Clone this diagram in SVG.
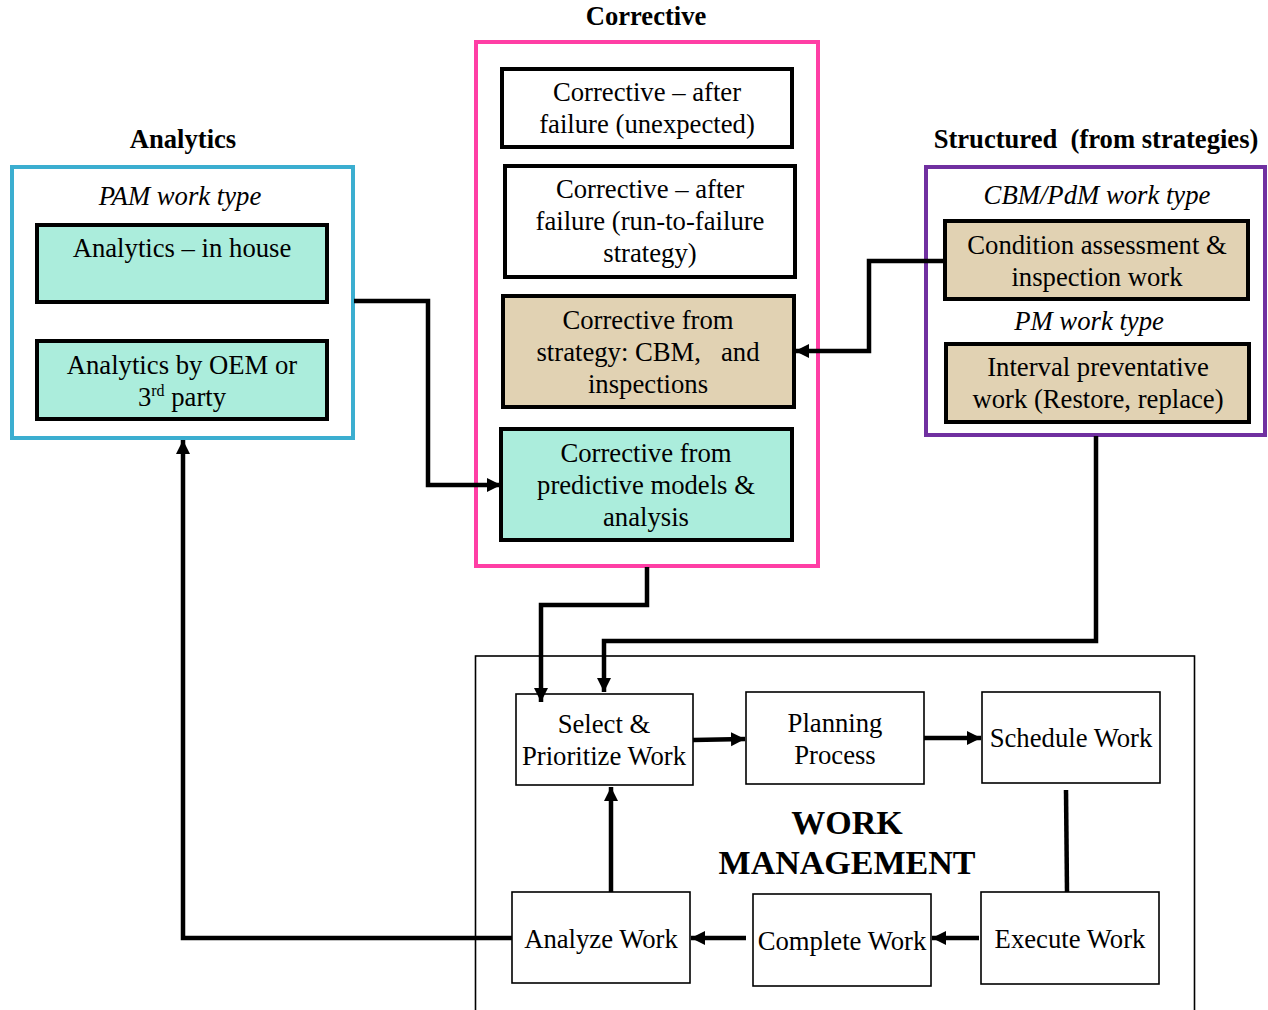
<svg xmlns="http://www.w3.org/2000/svg" width="1268" height="1010" viewBox="0 0 1268 1010">
<defs>
<style>
text{font-family:"Liberation Serif","Times New Roman",serif;fill:#000;text-anchor:middle}
.t{font-size:26.7px}
.h{font-size:26.6px;font-weight:bold}
.i{font-size:26.7px;font-style:italic}
.big{font-size:34px;font-weight:bold}
.teal{fill:#ABEDDC;stroke:#000;stroke-width:4}
.tan{fill:#E1D2B3;stroke:#000;stroke-width:4}
.wb{fill:#fff;stroke:#000;stroke-width:4}
.pb{fill:#fff;stroke:#000;stroke-width:1.6}
.c{fill:none;stroke:#000;stroke-width:4.5;marker-end:url(#a)}
</style>
<marker id="a" markerUnits="userSpaceOnUse" markerWidth="16" markerHeight="16" refX="14" refY="7" orient="auto"><path d="M0,0 L14,7 L0,14 z" fill="#000"/></marker>
</defs>
<rect width="1268" height="1010" fill="#fff"/>

<g id="work-management">
<rect x="475.5" y="656" width="719" height="360" fill="none" stroke="#000" stroke-width="1.6"/>
<text class="big" x="847" y="834">WORK</text>
<text class="big" x="847" y="874">MANAGEMENT</text>
</g>

<g id="analytics">
<text class="h" x="183" y="148">Analytics</text>
<rect x="12" y="167" width="341" height="271" fill="#fff" stroke="#3BAED0" stroke-width="4"/>
<text class="i" x="180" y="205">PAM work type</text>
<g id="analytics-in-house"><rect class="teal" x="37" y="225" width="290" height="77"/>
<text class="t" x="182" y="257">Analytics – in house</text></g>
<g id="analytics-oem"><rect class="teal" x="37" y="341" width="290" height="78"/>
<text class="t" x="182" y="374">Analytics by OEM or</text>
<text class="t" x="182" y="406">3<tspan font-size="16" dy="-10">rd</tspan><tspan dy="10"> party</tspan></text></g>
</g>

<g id="corrective">
<text class="h" x="646" y="25">Corrective</text>
<rect x="476" y="42" width="342" height="524" fill="#fff" stroke="#FF3EA5" stroke-width="4"/>
<g id="corr-unexpected"><rect class="wb" x="502" y="69" width="290" height="78"/>
<text class="t" x="647" y="101">Corrective – after</text>
<text class="t" x="647" y="133">failure (unexpected)</text></g>
<g id="corr-rtf"><rect class="wb" x="505" y="166" width="290" height="111"/>
<text class="t" x="650" y="198">Corrective – after</text>
<text class="t" x="650" y="230">failure (run-to-failure</text>
<text class="t" x="650" y="262">strategy)</text></g>
<g id="corr-strategy"><rect class="tan" x="503" y="296" width="291" height="111"/>
<text class="t" x="648" y="329">Corrective from</text>
<text class="t" x="648" y="361" xml:space="preserve">strategy: CBM,   and</text>
<text class="t" x="648" y="393">inspections</text></g>
<g id="corr-predictive"><rect class="teal" x="501" y="429" width="291" height="111"/>
<text class="t" x="646" y="462">Corrective from</text>
<text class="t" x="646" y="494">predictive models &amp;</text>
<text class="t" x="646" y="526">analysis</text></g>
</g>

<g id="structured">
<text class="h" x="1096" y="148" xml:space="preserve">Structured  (from strategies)</text>
<rect x="926" y="167" width="339" height="268" fill="#fff" stroke="#7030A0" stroke-width="4"/>
<text class="i" x="1097" y="204">CBM/PdM work type</text>
<g id="condition"><rect class="tan" x="945" y="221" width="303" height="78"/>
<text class="t" x="1097" y="254">Condition assessment &amp;</text>
<text class="t" x="1097" y="286">inspection work</text></g>
<text class="i" x="1089" y="330">PM work type</text>
<g id="interval"><rect class="tan" x="946" y="344" width="303" height="78"/>
<text class="t" x="1098" y="376">Interval preventative</text>
<text class="t" x="1098" y="408">work (Restore, replace)</text></g>
</g>

<g id="select"><rect class="pb" x="516" y="694" width="177" height="91"/>
<text class="t" x="604" y="733">Select &amp;</text>
<text class="t" x="604" y="765">Prioritize Work</text></g>
<g id="planning"><rect class="pb" x="746" y="692" width="178" height="92"/>
<text class="t" x="835" y="732">Planning</text>
<text class="t" x="835" y="764">Process</text></g>
<g id="schedule"><rect class="pb" x="982" y="692" width="178" height="91"/>
<text class="t" x="1071" y="747">Schedule Work</text></g>
<g id="execute"><rect class="pb" x="981" y="892" width="178" height="92"/>
<text class="t" x="1070" y="948">Execute Work</text></g>
<g id="complete"><rect class="pb" x="753" y="894" width="178" height="92"/>
<text class="t" x="842" y="950">Complete Work</text></g>
<g id="analyze"><rect class="pb" x="512" y="892" width="178" height="91"/>
<text class="t" x="601" y="948">Analyze Work</text></g>

<g id="connectors">
<path class="c" d="M354,301 H428 V485 H501"/>
<path class="c" d="M945,261 H869 V351 H795"/>
<path class="c" d="M647,567 V605 H541 V702"/>
<path class="c" d="M1096,436 V641 H604 V692"/>
<path class="c" d="M512,938 H183 V440"/>
<path class="c" d="M611,892 V787"/>
<path class="c" d="M693,740 L745,739"/>
<path class="c" d="M924,738 H981"/>
<path d="M1066,790 L1067,892" fill="none" stroke="#000" stroke-width="4.5"/>
<path class="c" d="M979,938 H932"/>
<path class="c" d="M746,938 H691"/>
</g>
</svg>
